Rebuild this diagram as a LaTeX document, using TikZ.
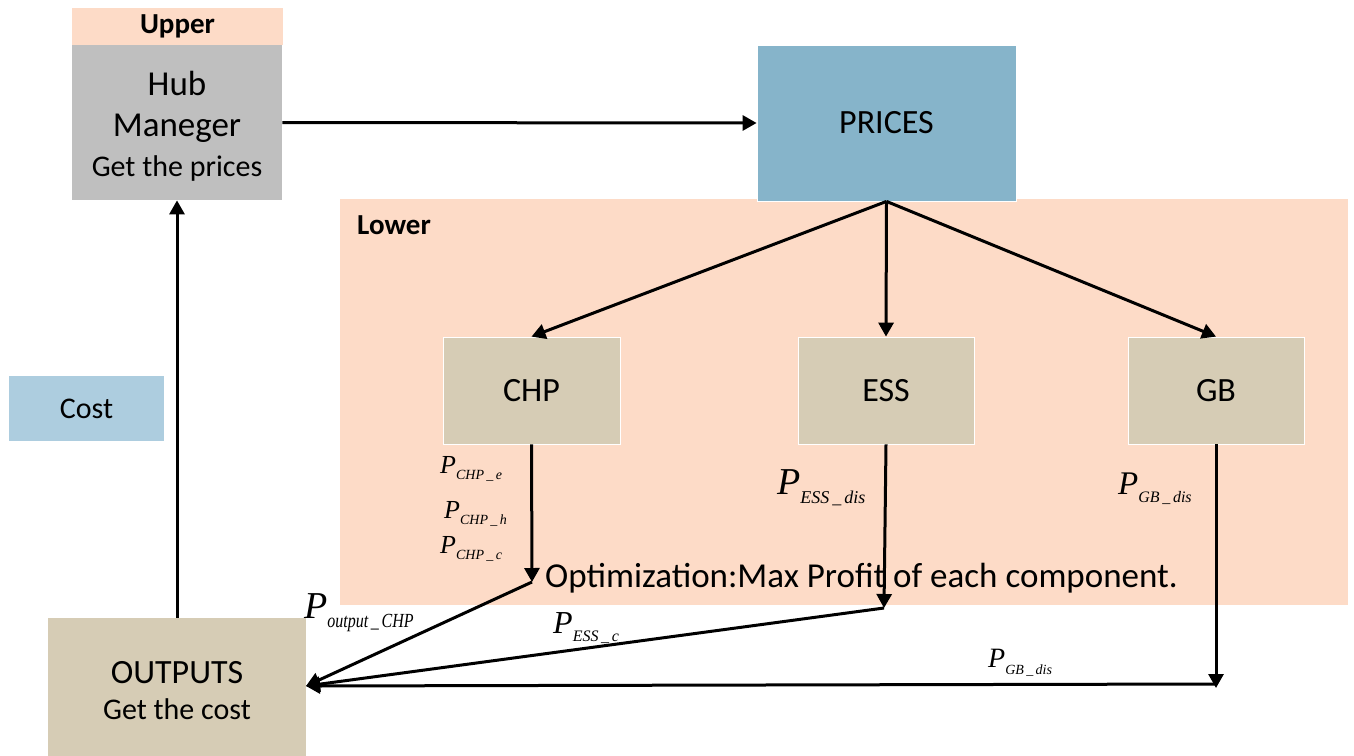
\documentclass[tikz,border=0pt]{standalone}
\usepackage{fontspec}
\setmainfont{Carlito}
\newfontfamily\tnr{Liberation Serif}
\usetikzlibrary{arrows.meta}
\newcommand\fs[1]{\fontsize{#1}{#1}\selectfont}
\newcommand\PV[3]{{\tnr\itshape\fs{#1}P\raisebox{-0.25em}{\fs{#2}#3}}}
\definecolor{peach}{HTML}{FDDBC7}
\definecolor{hubgray}{HTML}{BFBFBF}
\definecolor{priceblue}{HTML}{86B4CA}
\definecolor{tan}{HTML}{D6CCB5}
\definecolor{costblue}{HTML}{ADCDDF}
\tikzset{
  box/.style={inner sep=0pt, draw=white, line width=0.8pt, align=center},
  arr/.style={line width=3pt, -{Triangle[length=14pt,width=15pt]}},
  lbl/.style={anchor=base west, inner sep=0pt}
}
\begin{document}
\begin{tikzpicture}[x=1pt,y=-1pt]
\useasboundingbox (0,0) rectangle (1354,755);
% lower region
\node[box, draw=none, fill=peach, minimum width=1008pt, minimum height=406pt] (lower) at (844,402) {};
\node[anchor=base west, inner sep=0pt, font=\bfseries\fs{29}] (lowerlbl) at (357,234) {Lower};
% upper
\node[box, draw=none, fill=peach, minimum width=211pt, minimum height=37pt, font=\bfseries\fs{29}] (upper) at (177.5,26.5) {Upper};
\node[box, draw=none, fill=hubgray, minimum width=210pt, minimum height=155pt] (hub) at (177,122.5) {};
\node[anchor=base, inner sep=0pt, font=\fs{35}] (hubt1) at (177,95) {Hub};
\node[anchor=base, inner sep=0pt, font=\fs{35}] (hubt2) at (177,136) {Maneger};
\node[anchor=base, inner sep=0pt, font=\fs{30}] (hubt3) at (177,176) {Get the prices};
% prices
\node[box, fill=priceblue, minimum width=259pt, minimum height=156pt, font=\fs{34}] (prices) at (886.5,123) {PRICES};
% components
\node[box, fill=tan, minimum width=177pt, minimum height=107pt, font=\fs{34}] (chp) at (531.5,390.5) {CHP};
\node[box, fill=tan, minimum width=176pt, minimum height=107pt, font=\fs{34}] (ess) at (886,390.5) {ESS};
\node[box, fill=tan, minimum width=176pt, minimum height=107pt, font=\fs{34}] (gb) at (1216,390.5) {GB};
% cost
\node[box, draw=none, fill=costblue, minimum width=155pt, minimum height=65pt, font=\fs{30}] (cost) at (86.5,408.5) {Cost};
% outputs
\node[box, draw=none, fill=tan, minimum width=258pt, minimum height=140pt] (outputs) at (177,688) {};
\node[anchor=base, inner sep=0pt, font=\fs{34}] (outt1) at (177,683) {OUTPUTS};
\node[anchor=base, inner sep=0pt, font=\fs{30}] (outt2) at (177,719) {Get the cost};
% optimization text
\node[anchor=base west, inner sep=0pt, font=\fs{35}] (opt) at (545,587) {Optimization:Max Profit of each component.};
% coordinates
\coordinate (chpend) at (532,582);
\coordinate (essend) at (884,608);
\coordinate (gbend) at (1216,688);
\coordinate (outin) at (306,686);
% connectors
\draw[arr] (hub.east) -- (prices.west);
\draw[arr] (prices.south) -- (chp.north);
\draw[arr] (prices.south) -- (ess.north);
\draw[arr] (prices.south) -- (gb.north);
\draw[arr] (chp.south) -- (chpend);
\draw[arr] (ess.south) -- (essend);
\draw[arr] (gb.south) -- (gbend);
\draw[arr] (chpend) -- (outin);
\draw[arr] (essend) -- (outin);
\draw[arr] (1216,684) -- (outin);
\draw[arr] (outputs.north) -- (hub.south);
% math labels
\node[lbl] (l1) at (440,473) {\PV{26}{14}{CHP\,\_\,e}};
\node[lbl] (l2) at (444,518) {\PV{26}{14}{CHP\,\_\,h}};
\node[lbl] (l3) at (440,553) {\PV{26}{14}{CHP\,\_\,c}};
\node[lbl] (l4) at (777,494) {\PV{38}{18}{ESS\,\_\,dis}};
\node[lbl] (l5) at (1118,494) {\PV{33}{16}{GB\,\_\,dis}};
\node[lbl] (l6) at (304,618) {\PV{38}{20}{\scalebox{0.8}[1]{output\,\_\,CHP}}};
\node[lbl] (l7) at (553,633) {\PV{32}{16}{ESS\,\_\,c}};
\node[lbl] (l8) at (988,667) {\PV{28}{14}{GB\,\_\,dis}};
\end{tikzpicture}
\end{document}
